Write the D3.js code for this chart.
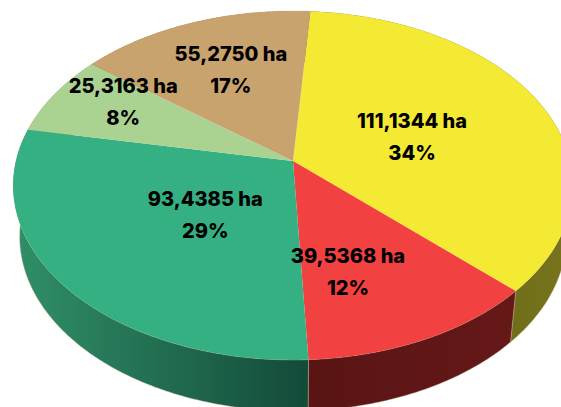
<!DOCTYPE html>
<html>
<head>
<meta charset="utf-8">
<script src="https://cdn.jsdelivr.net/npm/d3@7"></script>
<style>
  html, body { margin: 0; padding: 0; background: #fff; overflow: hidden; }
  svg { display: block; }
  text { font-family: Inter, "Open Sans", sans-serif; font-weight: 800; font-size: 20px; fill: #000; }
</style>
</head>
<body>
<svg id="pie3d" width="561" height="407"></svg>
<script>
// values as printed on the slices, clockwise from the top
const areaLabels = ["111,1344 ha", "39,5368 ha", "93,4385 ha", "25,3163 ha", "55,2750 ha"];
const areaValues = [111.1344, 39.5368, 93.4385, 25.3163, 55.2750];
const shareLabels = ["34%", "12%", "29%", "8%", "17%"];

const topColors = ["#f5ea33", "#f24141", "#35b083", "#aad291", "#c9a36e"];
const wallColors = [
    ["#5f5c16", "#77741c"],
    ["#5a1414", "#651818"],
    ["#309068", "#134a39"],
    ["#7c9a68", "#7c9a68"],
    ["#8f7450", "#8f7450"]
];

// how far out each label sits (0-1 of the radius) and how far it is turned off mid-slice, degrees
const labelRadius = [0.46, 0.62, 0.43, 0.74, 0.625];
const labelTurn = [0.5, 7.6, -4.2, 5, 3];

const startDeg = 10.2;
const depth = 51, bottomScale = 0.977;

// perspective of the disc: apex (293,161), near edge y=360, far edge y=11
const tilt = 0.1404;
const sx = d3.scaleLinear().domain([0, 1]).range([293, 293 + 277]);
const sy = d3.scaleLinear().domain([0, 1]).range([161, 161 + 171]);

function project(angle, r) {
    // pulls the far top edge back a little, the source picture is not a true projection
    const warped = angle - (6.5 * Math.PI / 180) * Math.pow(Math.max(0, Math.cos(angle)), 4);
    const u = r * Math.sin(warped), v = -r * Math.cos(warped);
    const w = 1 - tilt * v;
    return [sx(u / w), sy(v / w)];
}

function lower(p) {
    return [293 + (p[0] - 293) * bottomScale, p[1] + depth];
}

const pie = d3.pie().sort(null)
    .startAngle(startDeg * Math.PI / 180)
    .endAngle((startDeg + 360) * Math.PI / 180);
const arcs = pie(areaValues);

function rim(d) {
    const n = Math.ceil((d.endAngle - d.startAngle) / 0.01);
    return d3.range(n + 1).map(i => project(d.startAngle + (d.endAngle - d.startAngle) * i / n, 1));
}

const svg = d3.select("#pie3d");
const line = d3.line();

const defs = svg.append("defs");
arcs.forEach((d, i) => {
    const xs = rim(d).map(p => p[0]);
    const grad = defs.append("linearGradient")
        .attr("id", `wall${i}`)
        .attr("gradientUnits", "userSpaceOnUse")
        .attr("x1", d3.min(xs)).attr("x2", d3.max(xs))
        .attr("y1", 0).attr("y2", 0);
    grad.append("stop").attr("offset", 0).attr("stop-color", wallColors[i][0]);
    grad.append("stop").attr("offset", 1).attr("stop-color", wallColors[i][1]);
});

// walls first, the top surface covers whatever faces away
svg.append("g").selectAll("path")
    .data(arcs)
    .join("path")
    .attr("fill", (d, i) => `url(#wall${i})`)
    .attr("stroke", "#c9b98f")
    .attr("stroke-width", 0.4)
    .attr("d", d => {
        const top = rim(d);
        return line(top.concat(top.map(lower).reverse())) + "Z";
    });

svg.append("g").selectAll("path")
    .data(arcs)
    .join("path")
    .attr("fill", (d, i) => topColors[i])
    .attr("d", d => line([project(0, 0)].concat(rim(d))) + "Z");

const labels = svg.append("g").selectAll("g")
    .data(arcs)
    .join("g")
    .attr("transform", (d, i) => {
        const mid = (d.startAngle + d.endAngle) / 2 + labelTurn[i] * Math.PI / 180;
        return `translate(${project(mid, labelRadius[i])})`;
    });

labels.append("text")
    .attr("text-anchor", "middle")
    .attr("y", -9)
    .text((d, i) => areaLabels[i]);

labels.append("text")
    .attr("text-anchor", "middle")
    .attr("y", 23)
    .text((d, i) => shareLabels[i]);
</script>
</body>
</html>
